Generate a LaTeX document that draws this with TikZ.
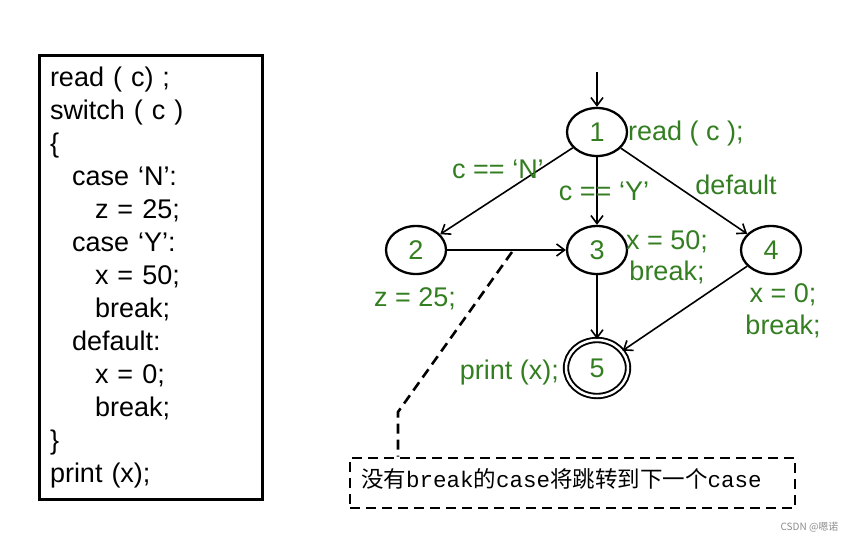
\documentclass[tikz,border=0pt]{standalone}
\usepackage{fontspec}
\setmainfont{Liberation Sans}
\newfontfamily\cjk{Noto Sans CJK SC}
\newfontfamily\mono{Liberation Mono}
\usetikzlibrary{positioning,arrows.meta,shapes.geometric,calc}
\definecolor{labelgreen}{RGB}{52,126,34}
\tikzset{
  state/.style={draw,shape=ellipse,line width=2.3pt,minimum width=60pt,minimum height=48pt,inner sep=0pt,text=labelgreen},
  final/.style={state,double,double distance=2.5pt,line width=1.9pt,minimum width=62pt,minimum height=56pt},
  flow/.style={line width=1.6pt,-{Straight Barb[length=8pt,width=12pt,line width=1.6pt]}},
  lbl/.style={text=labelgreen,inner sep=0pt,align=center},
  codebox/.style={draw,line width=3pt,minimum width=223pt,minimum height=443pt,inner sep=11pt,text width=201pt,align=left},
  notebox/.style={draw,line width=2.8pt,dash pattern=on 10pt off 6pt,minimum width=445pt,minimum height=50pt,inner sep=0pt},
  leader/.style={line width=2.6pt,dash pattern=on 10pt off 6pt}
}
\begin{document}
\begin{tikzpicture}[x=1pt,y=-1pt,font=\fontsize{27}{33}\selectfont]
  \useasboundingbox (0,0) rectangle (856,542);
  % code listing
  \node[codebox] (code) at (150.5,277.5) {read ( c) ;\\
switch ( c )\\
\{\\
\hspace*{22pt}case ‘N’:\\
\hspace*{45pt}z = 25;\\
\hspace*{22pt}case ‘Y’:\\
\hspace*{45pt}x = 50;\\
\hspace*{45pt}break;\\
\hspace*{22pt}default:\\
\hspace*{45pt}x = 0;\\
\hspace*{45pt}break;\\
\}\\
print (x);};
  % flow graph
  \coordinate (start) at (597,72);
  \node[state] (n1) at (597,132) {1};
  \node[state] (n2) at (416,250) {2};
  \node[state] (n3) at (597,250) {3};
  \node[state] (n4) at (771,250) {4};
  \node[final] (n5) at (597,368) {5};
  \draw[flow] (start) -- (n1);
  \draw[flow] (n1) -- (n2);
  \draw[flow] (n1) -- (n3);
  \draw[flow] (n1) -- (n4);
  \draw[flow] (n2) -- (n3);
  \draw[flow] (n3) -- (n5);
  \draw[flow] (n4) -- (n5);
  % labels
  \node[lbl,anchor=west] (readlbl) at (628,134) {read ( c );};
  \node[lbl] (caseN) at (498,169) {c == ‘N’};
  \node[lbl] (caseY) at (604,191) {c == ‘Y’};
  \node[lbl] (dflt) at (736,185) {default};
  \node[lbl,font=\fontsize{27}{31}\selectfont] (set50) at (667,257) {x = 50;\\break;};
  \node[lbl] (set25) at (415,299) {z = 25;};
  \node[lbl,font=\fontsize{27}{32}\selectfont] (set0) at (783,311) {x = 0;\\break;};
  \node[lbl,anchor=east] (printlbl) at (559,373) {print (x);};
  % note
  \node[notebox] (note) at (572.5,483) {};
  \node[anchor=west,inner sep=0pt,font=\fontsize{22.5}{26}\selectfont] (notetxt) at (361,479)
    {\cjk 没有{\mono break}的{\mono case}将跳转到下一个{\mono case}};
  \coordinate (tip) at (512,252);
  \coordinate (bend) at (398,412);
  \draw[leader] (tip) -- (bend) -- (bend |- note.north);
  \node[anchor=east,text=black!45,font=\cjk\fontsize{10}{12}\selectfont] (mark) at (842,527) {CSDN @嗯诺};
\end{tikzpicture}
\end{document}
